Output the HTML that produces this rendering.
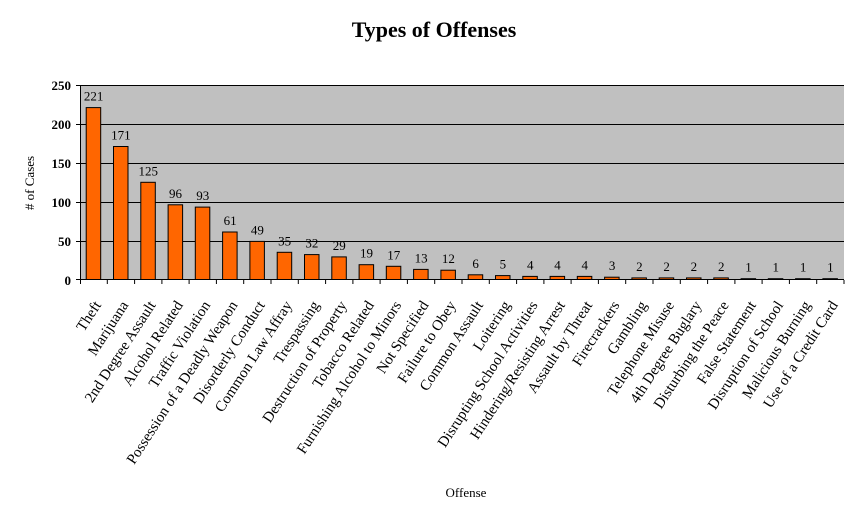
<!DOCTYPE html>
<html><head><meta charset="utf-8"><style>body{margin:0;background:#fff}svg{display:block}</style></head><body>
<svg width="868" height="510" xmlns="http://www.w3.org/2000/svg" font-family="Liberation Serif, serif">
<text x="434" y="37" text-anchor="middle" font-size="22" font-weight="bold">Types of Offenses</text>
<rect x="80" y="85" width="764" height="194.5" fill="#c0c0c0"/>
<g stroke="#000" stroke-width="1">
<line x1="80" y1="85.5" x2="844" y2="85.5"/>
<line x1="80" y1="124.5" x2="844" y2="124.5"/>
<line x1="80" y1="163.5" x2="844" y2="163.5"/>
<line x1="80" y1="202.5" x2="844" y2="202.5"/>
<line x1="80" y1="241.5" x2="844" y2="241.5"/>
<line x1="80.5" y1="85" x2="80.5" y2="284"/>
<line x1="76" y1="279.5" x2="844" y2="279.5"/>
<line x1="76" y1="85.5" x2="80" y2="85.5"/>
<line x1="76" y1="124.5" x2="80" y2="124.5"/>
<line x1="76" y1="163.5" x2="80" y2="163.5"/>
<line x1="76" y1="202.5" x2="80" y2="202.5"/>
<line x1="76" y1="241.5" x2="80" y2="241.5"/>
</g>
<g font-size="13" font-weight="bold" text-anchor="end">
<text x="71" y="90">250</text><text x="71" y="129">200</text><text x="71" y="168">150</text><text x="71" y="207">100</text><text x="71" y="246">50</text><text x="71" y="285">0</text>
</g>
<text transform="translate(34,183) rotate(-90)" text-anchor="middle" font-size="13"># of Cases</text>
<text x="466" y="497" text-anchor="middle" font-size="13">Offense</text>
<g fill="#ff6600" stroke="#000" stroke-width="1">
<rect x="86.2" y="107.6" width="14.5" height="171.9"/>
<rect x="113.5" y="146.5" width="14.5" height="133"/>
<rect x="140.8" y="182.3" width="14.5" height="97.2"/>
<rect x="168.1" y="204.8" width="14.5" height="74.7"/>
<rect x="195.3" y="207.1" width="14.5" height="72.4"/>
<rect x="222.6" y="232" width="14.5" height="47.5"/>
<rect x="249.9" y="241.4" width="14.5" height="38.1"/>
<rect x="277.2" y="252.3" width="14.5" height="27.2"/>
<rect x="304.5" y="254.6" width="14.5" height="24.9"/>
<rect x="331.8" y="256.9" width="14.5" height="22.6"/>
<rect x="359.1" y="264.7" width="14.5" height="14.8"/>
<rect x="386.3" y="266.3" width="14.5" height="13.2"/>
<rect x="413.6" y="269.4" width="14.5" height="10.1"/>
<rect x="440.9" y="270.2" width="14.5" height="9.3"/>
<rect x="468.2" y="274.8" width="14.5" height="4.7"/>
<rect x="495.5" y="275.6" width="14.5" height="3.9"/>
<rect x="522.8" y="276.4" width="14.5" height="3.1"/>
<rect x="550.1" y="276.4" width="14.5" height="3.1"/>
<rect x="577.3" y="276.4" width="14.5" height="3.1"/>
<rect x="604.6" y="277.2" width="14.5" height="2.3"/>
<rect x="631.9" y="277.9" width="14.5" height="1.6"/>
<rect x="659.2" y="277.9" width="14.5" height="1.6"/>
<rect x="686.5" y="277.9" width="14.5" height="1.6"/>
<rect x="713.8" y="277.9" width="14.5" height="1.6"/>
<rect x="741.1" y="278.7" width="14.5" height="0.8"/>
<rect x="768.3" y="278.7" width="14.5" height="0.8"/>
<rect x="795.6" y="278.7" width="14.5" height="0.8"/>
<rect x="822.9" y="278.7" width="14.5" height="0.8"/>
</g>
<g stroke="#000" stroke-width="1">
<line x1="107.3" y1="280" x2="107.3" y2="284"/><line x1="134.6" y1="280" x2="134.6" y2="284"/><line x1="161.9" y1="280" x2="161.9" y2="284"/><line x1="189.1" y1="280" x2="189.1" y2="284"/><line x1="216.4" y1="280" x2="216.4" y2="284"/><line x1="243.7" y1="280" x2="243.7" y2="284"/><line x1="271" y1="280" x2="271" y2="284"/><line x1="298.3" y1="280" x2="298.3" y2="284"/><line x1="325.6" y1="280" x2="325.6" y2="284"/><line x1="352.9" y1="280" x2="352.9" y2="284"/><line x1="380.1" y1="280" x2="380.1" y2="284"/><line x1="407.4" y1="280" x2="407.4" y2="284"/><line x1="434.7" y1="280" x2="434.7" y2="284"/><line x1="462" y1="280" x2="462" y2="284"/><line x1="489.3" y1="280" x2="489.3" y2="284"/><line x1="516.6" y1="280" x2="516.6" y2="284"/><line x1="543.9" y1="280" x2="543.9" y2="284"/><line x1="571.1" y1="280" x2="571.1" y2="284"/><line x1="598.4" y1="280" x2="598.4" y2="284"/><line x1="625.7" y1="280" x2="625.7" y2="284"/><line x1="653" y1="280" x2="653" y2="284"/><line x1="680.3" y1="280" x2="680.3" y2="284"/><line x1="707.6" y1="280" x2="707.6" y2="284"/><line x1="734.9" y1="280" x2="734.9" y2="284"/><line x1="762.1" y1="280" x2="762.1" y2="284"/><line x1="789.4" y1="280" x2="789.4" y2="284"/><line x1="816.7" y1="280" x2="816.7" y2="284"/><line x1="844" y1="280" x2="844" y2="284"/>
</g>
<g font-size="13" text-anchor="middle">
<text x="93.6" y="100.6">221</text><text x="120.9" y="139.5">171</text><text x="148.2" y="175.3">125</text><text x="175.5" y="197.8">96</text><text x="202.8" y="200.1">93</text><text x="230.1" y="225">61</text><text x="257.4" y="234.4">49</text><text x="284.6" y="245.3">35</text><text x="311.9" y="247.6">32</text><text x="339.2" y="249.9">29</text><text x="366.5" y="257.7">19</text><text x="393.8" y="259.3">17</text><text x="421.1" y="262.4">13</text><text x="448.4" y="263.2">12</text><text x="475.6" y="267.8">6</text><text x="502.9" y="268.6">5</text><text x="530.2" y="269.4">4</text><text x="557.5" y="269.4">4</text><text x="584.8" y="269.4">4</text><text x="612.1" y="270.2">3</text><text x="639.4" y="270.9">2</text><text x="666.6" y="270.9">2</text><text x="693.9" y="270.9">2</text><text x="721.2" y="270.9">2</text><text x="748.5" y="271.7">1</text><text x="775.8" y="271.7">1</text><text x="803.1" y="271.7">1</text><text x="830.4" y="271.7">1</text>
</g>
<g font-size="15" text-anchor="end">
<text transform="translate(101.6,305) rotate(-57)">Theft</text>
<text transform="translate(128.9,305) rotate(-57)">Marijuana</text>
<text transform="translate(156.2,305) rotate(-57)">2nd Degree Assault</text>
<text transform="translate(183.5,305) rotate(-57)">Alcohol Related</text>
<text transform="translate(210.8,305) rotate(-57)">Traffic Violation</text>
<text transform="translate(238.1,305) rotate(-57)">Possession of a Deadly Weapon</text>
<text transform="translate(265.4,305) rotate(-57)">Disorderly Conduct</text>
<text transform="translate(292.6,305) rotate(-57)">Common Law Affray</text>
<text transform="translate(319.9,305) rotate(-57)">Trespassing</text>
<text transform="translate(347.2,305) rotate(-57)">Destruction of Property</text>
<text transform="translate(374.5,305) rotate(-57)">Tobacco Related</text>
<text transform="translate(401.8,305) rotate(-57)">Furnishing Alcohol to Minors</text>
<text transform="translate(429.1,305) rotate(-57)">Not Specified</text>
<text transform="translate(456.4,305) rotate(-57)">Failure to Obey</text>
<text transform="translate(483.6,305) rotate(-57)">Common Assault</text>
<text transform="translate(510.9,305) rotate(-57)">Loitering</text>
<text transform="translate(538.2,305) rotate(-57)">Disrupting School Activities</text>
<text transform="translate(565.5,305) rotate(-57)">Hindering/Resisting Arrest</text>
<text transform="translate(592.8,305) rotate(-57)">Assault by Threat</text>
<text transform="translate(620.1,305) rotate(-57)">Firecrackers</text>
<text transform="translate(647.4,305) rotate(-57)">Gambling</text>
<text transform="translate(674.6,305) rotate(-57)">Telephone Misuse</text>
<text transform="translate(701.9,305) rotate(-57)">4th Degree Buglary</text>
<text transform="translate(729.2,305) rotate(-57)">Disturbing the Peace</text>
<text transform="translate(756.5,305) rotate(-57)">False Statement</text>
<text transform="translate(783.8,305) rotate(-57)">Disruption of School</text>
<text transform="translate(811.1,305) rotate(-57)">Malicious Burning</text>
<text transform="translate(838.4,305) rotate(-57)">Use of a Credit Card</text>
</g>
</svg>
</body></html>
